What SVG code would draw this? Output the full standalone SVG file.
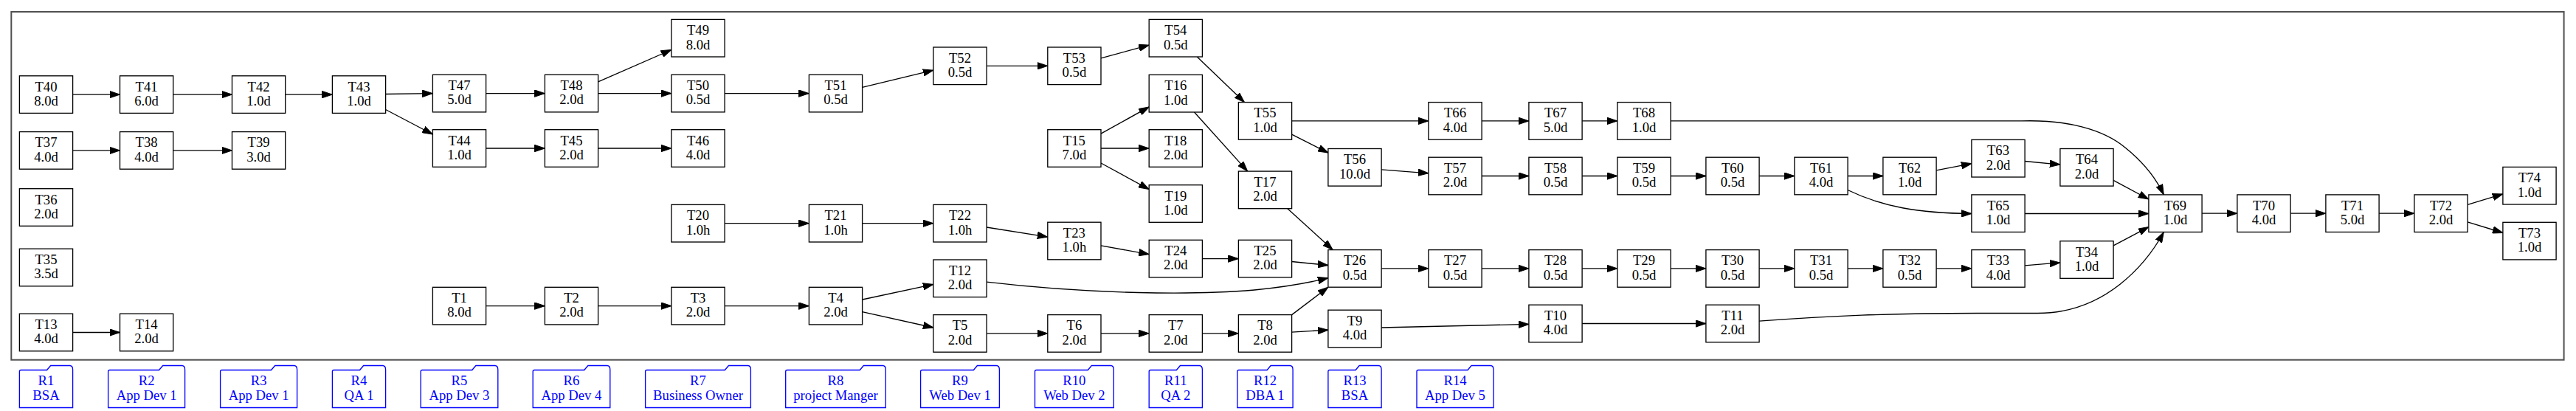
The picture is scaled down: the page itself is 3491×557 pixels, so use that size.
<svg xmlns="http://www.w3.org/2000/svg" width="3491" height="557" viewBox="0 0 3491 557">
<style>
.n text,.r text{font-family:"Liberation Serif","Times New Roman",serif;font-size:18.67px;text-anchor:middle}
.n text{fill:#000}
.r path{fill:#fff;stroke:#0000ff;stroke-width:1.33}
.r text{fill:#0000ff}
#edges path{fill:none;stroke:#000;stroke-width:1.33;marker-end:url(#arr)}
</style>
<defs>
<marker id="arr" markerUnits="userSpaceOnUse" markerWidth="14" markerHeight="10" viewBox="0 0 14 10" refX="14" refY="5" orient="auto">
<path d="M0,0.3 L14,5 L0,9.7 Z" fill="#000" stroke="#000" stroke-width="1"/>
</marker>
<rect id="box" x="-36.1" y="-25.3" width="72.2" height="50.6" fill="#fff" stroke="#000" stroke-width="1.33"/>
</defs>
<rect x="0" y="0" width="3491" height="557" fill="#fff"/>
<rect id="frame" x="15.3" y="16" width="3459.3" height="471.7" fill="none" stroke="#505050" stroke-width="2"/>

<g id="edges">
<path d="M98.6,128.1 L162.5,128.1"/>
<path d="M234.7,128.1 L314.5,128.1"/>
<path d="M386.7,128.1 L450.4,128.1"/>
<path d="M522.6,127.5 L586.4,126.6"/>
<path d="M522.6,148.5 L586.4,182"/>
<path d="M98.6,203.9 L162.5,203.9"/>
<path d="M234.7,203.9 L314.5,203.9"/>
<path d="M98.6,450.5 L162.5,450.5"/>
<path d="M658.6,126.6 L738.4,126.6"/>
<path d="M810.6,110.8 L909.9,67.5"/>
<path d="M810.6,126.6 L909.9,126.6"/>
<path d="M982.1,126.6 L1096.4,126.6"/>
<path d="M658.6,201 L738.4,201"/>
<path d="M810.6,201 L909.9,201"/>
<path d="M982.1,302.7 L1096.4,302.7"/>
<path d="M658.6,414.6 L738.4,414.6"/>
<path d="M810.6,414.6 L909.9,414.6"/>
<path d="M982.1,414.6 L1096.4,414.6"/>
<path d="M1168.6,118.3 L1264.9,95.2"/>
<path d="M1337.1,89.3 L1419.8,89.3"/>
<path d="M1492,78.9 L1557.2,61.1"/>
<path d="M1622.3,77 L1686.4,138.6"/>
<path d="M1492,181.2 L1557.2,144.9"/>
<path d="M1492,201 L1557.2,201"/>
<path d="M1492,221 L1557.2,256.5"/>
<path d="M1618.5,152 L1690.7,232.1"/>
<path d="M1168.6,302.7 L1264.9,302.7"/>
<path d="M1337.1,308 L1419.8,321.1"/>
<path d="M1492,332.9 L1557.2,344.6"/>
<path d="M1629.4,350.6 L1678.4,350.6"/>
<path d="M1168.6,406 L1264.9,385.4"/>
<path d="M1168.6,422.7 L1264.9,444"/>
<path d="M1337.1,451.9 L1419.8,451.9"/>
<path d="M1492,451.9 L1557.2,451.9"/>
<path d="M1629.4,451.9 L1678.4,451.9"/>
<path d="M1337.1,382.2 C1480,399 1620,400 1700,393 C1740,389 1775,383 1799.9,376.6"/>
<path d="M1744.9,282.7 L1806.2,338.6"/>
<path d="M1750.6,354.5 L1799.9,359.5"/>
<path d="M1750.6,426.6 L1799.9,389.2"/>
<path d="M1750.6,450.1 L1799.9,447.2"/>
<path d="M1872.1,444 L2071.9,439.4"/>
<path d="M2144.1,438.5 L2311.9,438.5"/>
<path d="M1750.6,163.9 L1935.9,163.9"/>
<path d="M2008.1,163.9 L2071.9,163.9"/>
<path d="M2144.1,163.9 L2191.9,163.9"/>
<path d="M1750.6,182.2 L1799.9,207.1"/>
<path d="M1872.1,229.8 L1935.9,234.8"/>
<path d="M2008.1,238.5 L2071.9,238.5"/>
<path d="M2144.1,238.5 L2191.9,238.5"/>
<path d="M2264.1,238.5 L2311.9,238.5"/>
<path d="M2384.1,238.5 L2431.9,238.5"/>
<path d="M2504.1,238.5 L2551.9,238.5"/>
<path d="M2624.1,230.9 L2671.9,221.7"/>
<path d="M2744.1,218.5 L2791.9,223.1"/>
<path d="M2504.1,257.5 C2550,280 2600,289 2671.9,289.5"/>
<path d="M1872.1,363.9 L1935.9,363.9"/>
<path d="M2008.1,363.9 L2071.9,363.9"/>
<path d="M2144.1,363.9 L2191.9,363.9"/>
<path d="M2264.1,363.9 L2311.9,363.9"/>
<path d="M2384.1,363.9 L2431.9,363.9"/>
<path d="M2504.1,363.9 L2551.9,363.9"/>
<path d="M2624.1,363.9 L2671.9,363.9"/>
<path d="M2744.1,359.9 L2791.9,355.9"/>
<path d="M2864.1,244.4 L2911.9,270"/>
<path d="M2744.1,289.5 L2911.9,289.5"/>
<path d="M2864.1,332.9 L2911.9,307.6"/>
<path d="M2384.1,435.2 C2480,428 2560,424.5 2680,424.5 L2760,424.5 C2855,425 2910,355 2932.3,314.7"/>
<path d="M2264.1,163.9 L2740,163.9 C2800,162 2850,175 2880,200 C2905,220 2922,242 2932.3,263.9"/>
<path d="M2984.1,289.2 L3031.9,289.2"/>
<path d="M3104.1,289.2 L3151.9,289.2"/>
<path d="M3224.1,289.2 L3271.9,289.2"/>
<path d="M3344.1,277.4 L3391.9,262.9"/>
<path d="M3344.1,300.9 L3391.9,315.5"/>
</g>

<g id="T40" class="n" transform="translate(62.5,128.1)"><use href="#box"/><text y="-4.5">T40</text><text y="14.8">8.0d</text></g>
<g id="T41" class="n" transform="translate(198.6,128.1)"><use href="#box"/><text y="-4.5">T41</text><text y="14.8">6.0d</text></g>
<g id="T42" class="n" transform="translate(350.6,128.1)"><use href="#box"/><text y="-4.5">T42</text><text y="14.8">1.0d</text></g>
<g id="T43" class="n" transform="translate(486.5,128.1)"><use href="#box"/><text y="-4.5">T43</text><text y="14.8">1.0d</text></g>
<g id="T37" class="n" transform="translate(62.5,203.9)"><use href="#box"/><text y="-4.5">T37</text><text y="14.8">4.0d</text></g>
<g id="T38" class="n" transform="translate(198.6,203.9)"><use href="#box"/><text y="-4.5">T38</text><text y="14.8">4.0d</text></g>
<g id="T39" class="n" transform="translate(350.6,203.9)"><use href="#box"/><text y="-4.5">T39</text><text y="14.8">3.0d</text></g>
<g id="T36" class="n" transform="translate(62.5,281)"><use href="#box"/><text y="-4.5">T36</text><text y="14.8">2.0d</text></g>
<g id="T35" class="n" transform="translate(62.5,362.5)"><use href="#box"/><text y="-4.5">T35</text><text y="14.8">3.5d</text></g>
<g id="T13" class="n" transform="translate(62.5,450.5)"><use href="#box"/><text y="-4.5">T13</text><text y="14.8">4.0d</text></g>
<g id="T14" class="n" transform="translate(198.6,450.5)"><use href="#box"/><text y="-4.5">T14</text><text y="14.8">2.0d</text></g>
<g id="T47" class="n" transform="translate(622.5,126.6)"><use href="#box"/><text y="-4.5">T47</text><text y="14.8">5.0d</text></g>
<g id="T44" class="n" transform="translate(622.5,201)"><use href="#box"/><text y="-4.5">T44</text><text y="14.8">1.0d</text></g>
<g id="T1" class="n" transform="translate(622.5,414.6)"><use href="#box"/><text y="-4.5">T1</text><text y="14.8">8.0d</text></g>
<g id="T48" class="n" transform="translate(774.5,126.6)"><use href="#box"/><text y="-4.5">T48</text><text y="14.8">2.0d</text></g>
<g id="T45" class="n" transform="translate(774.5,201)"><use href="#box"/><text y="-4.5">T45</text><text y="14.8">2.0d</text></g>
<g id="T2" class="n" transform="translate(774.5,414.6)"><use href="#box"/><text y="-4.5">T2</text><text y="14.8">2.0d</text></g>
<g id="T49" class="n" transform="translate(946,51.7)"><use href="#box"/><text y="-4.5">T49</text><text y="14.8">8.0d</text></g>
<g id="T50" class="n" transform="translate(946,126.6)"><use href="#box"/><text y="-4.5">T50</text><text y="14.8">0.5d</text></g>
<g id="T46" class="n" transform="translate(946,201)"><use href="#box"/><text y="-4.5">T46</text><text y="14.8">4.0d</text></g>
<g id="T20" class="n" transform="translate(946,302.7)"><use href="#box"/><text y="-4.5">T20</text><text y="14.8">1.0h</text></g>
<g id="T3" class="n" transform="translate(946,414.6)"><use href="#box"/><text y="-4.5">T3</text><text y="14.8">2.0d</text></g>
<g id="T51" class="n" transform="translate(1132.5,126.6)"><use href="#box"/><text y="-4.5">T51</text><text y="14.8">0.5d</text></g>
<g id="T21" class="n" transform="translate(1132.5,302.7)"><use href="#box"/><text y="-4.5">T21</text><text y="14.8">1.0h</text></g>
<g id="T4" class="n" transform="translate(1132.5,414.6)"><use href="#box"/><text y="-4.5">T4</text><text y="14.8">2.0d</text></g>
<g id="T52" class="n" transform="translate(1301,89.3)"><use href="#box"/><text y="-4.5">T52</text><text y="14.8">0.5d</text></g>
<g id="T22" class="n" transform="translate(1301,302.7)"><use href="#box"/><text y="-4.5">T22</text><text y="14.8">1.0h</text></g>
<g id="T12" class="n" transform="translate(1301,377.3)"><use href="#box"/><text y="-4.5">T12</text><text y="14.8">2.0d</text></g>
<g id="T5" class="n" transform="translate(1301,451.9)"><use href="#box"/><text y="-4.5">T5</text><text y="14.8">2.0d</text></g>
<g id="T53" class="n" transform="translate(1455.9,89.3)"><use href="#box"/><text y="-4.5">T53</text><text y="14.8">0.5d</text></g>
<g id="T15" class="n" transform="translate(1455.9,201)"><use href="#box"/><text y="-4.5">T15</text><text y="14.8">7.0d</text></g>
<g id="T23" class="n" transform="translate(1455.9,326.5)"><use href="#box"/><text y="-4.5">T23</text><text y="14.8">1.0h</text></g>
<g id="T6" class="n" transform="translate(1455.9,451.9)"><use href="#box"/><text y="-4.5">T6</text><text y="14.8">2.0d</text></g>
<g id="T54" class="n" transform="translate(1593.3,51.7)"><use href="#box"/><text y="-4.5">T54</text><text y="14.8">0.5d</text></g>
<g id="T16" class="n" transform="translate(1593.3,126.7)"><use href="#box"/><text y="-4.5">T16</text><text y="14.8">1.0d</text></g>
<g id="T18" class="n" transform="translate(1593.3,201)"><use href="#box"/><text y="-4.5">T18</text><text y="14.8">2.0d</text></g>
<g id="T19" class="n" transform="translate(1593.3,276)"><use href="#box"/><text y="-4.5">T19</text><text y="14.8">1.0d</text></g>
<g id="T24" class="n" transform="translate(1593.3,350.6)"><use href="#box"/><text y="-4.5">T24</text><text y="14.8">2.0d</text></g>
<g id="T7" class="n" transform="translate(1593.3,451.9)"><use href="#box"/><text y="-4.5">T7</text><text y="14.8">2.0d</text></g>
<g id="T55" class="n" transform="translate(1714.5,163.9)"><use href="#box"/><text y="-4.5">T55</text><text y="14.8">1.0d</text></g>
<g id="T17" class="n" transform="translate(1714.5,257.4)"><use href="#box"/><text y="-4.5">T17</text><text y="14.8">2.0d</text></g>
<g id="T25" class="n" transform="translate(1714.5,350.6)"><use href="#box"/><text y="-4.5">T25</text><text y="14.8">2.0d</text></g>
<g id="T8" class="n" transform="translate(1714.5,451.9)"><use href="#box"/><text y="-4.5">T8</text><text y="14.8">2.0d</text></g>
<g id="T56" class="n" transform="translate(1836,226.8)"><use href="#box"/><text y="-4.5">T56</text><text y="14.8">10.0d</text></g>
<g id="T26" class="n" transform="translate(1836,363.9)"><use href="#box"/><text y="-4.5">T26</text><text y="14.8">0.5d</text></g>
<g id="T9" class="n" transform="translate(1836,445.5)"><use href="#box"/><text y="-4.5">T9</text><text y="14.8">4.0d</text></g>
<g id="T66" class="n" transform="translate(1972,163.9)"><use href="#box"/><text y="-4.5">T66</text><text y="14.8">4.0d</text></g>
<g id="T57" class="n" transform="translate(1972,238.5)"><use href="#box"/><text y="-4.5">T57</text><text y="14.8">2.0d</text></g>
<g id="T27" class="n" transform="translate(1972,363.9)"><use href="#box"/><text y="-4.5">T27</text><text y="14.8">0.5d</text></g>
<g id="T67" class="n" transform="translate(2108,163.9)"><use href="#box"/><text y="-4.5">T67</text><text y="14.8">5.0d</text></g>
<g id="T58" class="n" transform="translate(2108,238.5)"><use href="#box"/><text y="-4.5">T58</text><text y="14.8">0.5d</text></g>
<g id="T28" class="n" transform="translate(2108,363.9)"><use href="#box"/><text y="-4.5">T28</text><text y="14.8">0.5d</text></g>
<g id="T10" class="n" transform="translate(2108,438.5)"><use href="#box"/><text y="-4.5">T10</text><text y="14.8">4.0d</text></g>
<g id="T68" class="n" transform="translate(2228,163.9)"><use href="#box"/><text y="-4.5">T68</text><text y="14.8">1.0d</text></g>
<g id="T59" class="n" transform="translate(2228,238.5)"><use href="#box"/><text y="-4.5">T59</text><text y="14.8">0.5d</text></g>
<g id="T29" class="n" transform="translate(2228,363.9)"><use href="#box"/><text y="-4.5">T29</text><text y="14.8">0.5d</text></g>
<g id="T60" class="n" transform="translate(2348,238.5)"><use href="#box"/><text y="-4.5">T60</text><text y="14.8">0.5d</text></g>
<g id="T30" class="n" transform="translate(2348,363.9)"><use href="#box"/><text y="-4.5">T30</text><text y="14.8">0.5d</text></g>
<g id="T11" class="n" transform="translate(2348,438.5)"><use href="#box"/><text y="-4.5">T11</text><text y="14.8">2.0d</text></g>
<g id="T61" class="n" transform="translate(2468,238.5)"><use href="#box"/><text y="-4.5">T61</text><text y="14.8">4.0d</text></g>
<g id="T31" class="n" transform="translate(2468,363.9)"><use href="#box"/><text y="-4.5">T31</text><text y="14.8">0.5d</text></g>
<g id="T62" class="n" transform="translate(2588,238.5)"><use href="#box"/><text y="-4.5">T62</text><text y="14.8">1.0d</text></g>
<g id="T32" class="n" transform="translate(2588,363.9)"><use href="#box"/><text y="-4.5">T32</text><text y="14.8">0.5d</text></g>
<g id="T63" class="n" transform="translate(2708,214.7)"><use href="#box"/><text y="-4.5">T63</text><text y="14.8">2.0d</text></g>
<g id="T65" class="n" transform="translate(2708,289.2)"><use href="#box"/><text y="-4.5">T65</text><text y="14.8">1.0d</text></g>
<g id="T33" class="n" transform="translate(2708,363.9)"><use href="#box"/><text y="-4.5">T33</text><text y="14.8">4.0d</text></g>
<g id="T64" class="n" transform="translate(2828,226.8)"><use href="#box"/><text y="-4.5">T64</text><text y="14.8">2.0d</text></g>
<g id="T34" class="n" transform="translate(2828,352)"><use href="#box"/><text y="-4.5">T34</text><text y="14.8">1.0d</text></g>
<g id="T69" class="n" transform="translate(2948,289.2)"><use href="#box"/><text y="-4.5">T69</text><text y="14.8">1.0d</text></g>
<g id="T70" class="n" transform="translate(3068,289.2)"><use href="#box"/><text y="-4.5">T70</text><text y="14.8">4.0d</text></g>
<g id="T71" class="n" transform="translate(3188,289.2)"><use href="#box"/><text y="-4.5">T71</text><text y="14.8">5.0d</text></g>
<g id="T72" class="n" transform="translate(3308,289.2)"><use href="#box"/><text y="-4.5">T72</text><text y="14.8">2.0d</text></g>
<g id="T74" class="n" transform="translate(3428,251.7)"><use href="#box"/><text y="-4.5">T74</text><text y="14.8">1.0d</text></g>
<g id="T73" class="n" transform="translate(3428,326.6)"><use href="#box"/><text y="-4.5">T73</text><text y="14.8">1.0d</text></g>

<g id="R1" class="r" transform="translate(62.5,0)"><path d="M-36.1,552.5 L-36.1,503.5 Q-36.1,501.5 -34.1,501.5 L1.1,501.5 L6.1,495.5 L32.1,495.5 Q36.1,495.5 36.1,501 L36.1,552.5 Z"/><text y="522.3">R1</text><text y="541.8">BSA</text></g>
<g id="R2" class="r" transform="translate(198.6,0)"><path d="M-52,552.5 L-52,503.5 Q-52,501.5 -50,501.5 L17,501.5 L22,495.5 L48,495.5 Q52,495.5 52,501 L52,552.5 Z"/><text y="522.3">R2</text><text y="541.8">App Dev 1</text></g>
<g id="R3" class="r" transform="translate(350.6,0)"><path d="M-52,552.5 L-52,503.5 Q-52,501.5 -50,501.5 L17,501.5 L22,495.5 L48,495.5 Q52,495.5 52,501 L52,552.5 Z"/><text y="522.3">R3</text><text y="541.8">App Dev 1</text></g>
<g id="R4" class="r" transform="translate(486.5,0)"><path d="M-36.1,552.5 L-36.1,503.5 Q-36.1,501.5 -34.1,501.5 L1.1,501.5 L6.1,495.5 L32.1,495.5 Q36.1,495.5 36.1,501 L36.1,552.5 Z"/><text y="522.3">R4</text><text y="541.8">QA 1</text></g>
<g id="R5" class="r" transform="translate(622.5,0)"><path d="M-52.3,552.5 L-52.3,503.5 Q-52.3,501.5 -50.3,501.5 L17.3,501.5 L22.3,495.5 L48.3,495.5 Q52.3,495.5 52.3,501 L52.3,552.5 Z"/><text y="522.3">R5</text><text y="541.8">App Dev 3</text></g>
<g id="R6" class="r" transform="translate(774.5,0)"><path d="M-52.3,552.5 L-52.3,503.5 Q-52.3,501.5 -50.3,501.5 L17.3,501.5 L22.3,495.5 L48.3,495.5 Q52.3,495.5 52.3,501 L52.3,552.5 Z"/><text y="522.3">R6</text><text y="541.8">App Dev 4</text></g>
<g id="R7" class="r" transform="translate(946,0)"><path d="M-71.4,552.5 L-71.4,503.5 Q-71.4,501.5 -69.4,501.5 L36.4,501.5 L41.4,495.5 L67.4,495.5 Q71.4,495.5 71.4,501 L71.4,552.5 Z"/><text y="522.3">R7</text><text y="541.8">Business Owner</text></g>
<g id="R8" class="r" transform="translate(1132.5,0)"><path d="M-67.8,552.5 L-67.8,503.5 Q-67.8,501.5 -65.8,501.5 L32.8,501.5 L37.8,495.5 L63.8,495.5 Q67.8,495.5 67.8,501 L67.8,552.5 Z"/><text y="522.3">R8</text><text y="541.8">project Manger</text></g>
<g id="R9" class="r" transform="translate(1301,0)"><path d="M-53.4,552.5 L-53.4,503.5 Q-53.4,501.5 -51.4,501.5 L18.4,501.5 L23.4,495.5 L49.4,495.5 Q53.4,495.5 53.4,501 L53.4,552.5 Z"/><text y="522.3">R9</text><text y="541.8">Web Dev 1</text></g>
<g id="R10" class="r" transform="translate(1455.9,0)"><path d="M-53.4,552.5 L-53.4,503.5 Q-53.4,501.5 -51.4,501.5 L18.4,501.5 L23.4,495.5 L49.4,495.5 Q53.4,495.5 53.4,501 L53.4,552.5 Z"/><text y="522.3">R10</text><text y="541.8">Web Dev 2</text></g>
<g id="R11" class="r" transform="translate(1593.3,0)"><path d="M-36.1,552.5 L-36.1,503.5 Q-36.1,501.5 -34.1,501.5 L1.1,501.5 L6.1,495.5 L32.1,495.5 Q36.1,495.5 36.1,501 L36.1,552.5 Z"/><text y="522.3">R11</text><text y="541.8">QA 2</text></g>
<g id="R12" class="r" transform="translate(1714.5,0)"><path d="M-37.6,552.5 L-37.6,503.5 Q-37.6,501.5 -35.6,501.5 L2.6,501.5 L7.6,495.5 L33.6,495.5 Q37.6,495.5 37.6,501 L37.6,552.5 Z"/><text y="522.3">R12</text><text y="541.8">DBA 1</text></g>
<g id="R13" class="r" transform="translate(1836,0)"><path d="M-36.1,552.5 L-36.1,503.5 Q-36.1,501.5 -34.1,501.5 L1.1,501.5 L6.1,495.5 L32.1,495.5 Q36.1,495.5 36.1,501 L36.1,552.5 Z"/><text y="522.3">R13</text><text y="541.8">BSA</text></g>
<g id="R14" class="r" transform="translate(1972,0)"><path d="M-52,552.5 L-52,503.5 Q-52,501.5 -50,501.5 L17,501.5 L22,495.5 L48,495.5 Q52,495.5 52,501 L52,552.5 Z"/><text y="522.3">R14</text><text y="541.8">App Dev 5</text></g>
</svg>
